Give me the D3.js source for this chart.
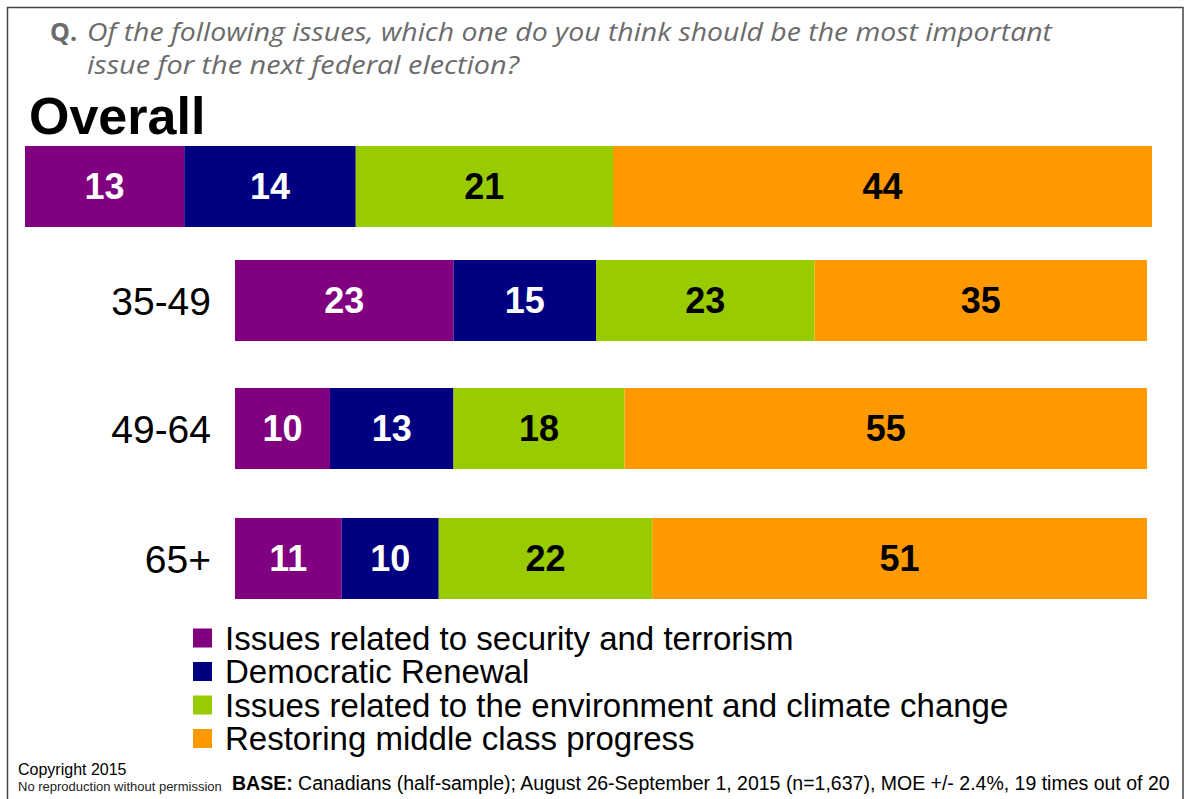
<!DOCTYPE html>
<html>
<head>
<meta charset="utf-8">
<script src="https://cdn.jsdelivr.net/npm/d3@7"></script>
<style>
  html, body { margin: 0; padding: 0; background: #fff; }
  svg { display: block; }
</style>
</head>
<body>
<script>
// Survey: most important issue for the next federal election
const issues = [
  "Issues related to security and terrorism",
  "Democratic Renewal",
  "Issues related to the environment and climate change",
  "Restoring middle class progress"
];
const issueColors = ["#800080", "#000080", "#99cc00", "#ff9900"];
const labelColors = ["#ffffff", "#ffffff", "#000000", "#000000"];

const groups = ["Overall", "35-49", "49-64", "65+"];
const security    = [13, 23, 10, 11];
const democratic  = [14, 15, 13, 10];
const environment = [21, 23, 18, 22];
const middleClass = [44, 35, 55, 51];

const W = 1185, H = 799;
const svg = d3.select("body").append("svg").attr("width", W).attr("height", H);
const sans = "'Liberation Sans', Arial, sans-serif";

// frame
svg.append("rect").attr("x", 7.5).attr("y", 7.5).attr("width", 1175.5).attr("height", 800)
  .attr("fill", "none").attr("stroke", "#444").attr("stroke-width", 1.5);

// question
const q = svg.append("g").attr("font-family", "'Open Sans', 'DejaVu Sans', sans-serif").attr("fill", "#6b6b6b");
q.append("text").attr("x", 50).attr("y", 41).attr("font-size", 25).attr("font-weight", "bold").text("Q.");
q.append("text").attr("x", 87).attr("y", 41).attr("font-size", 25).attr("font-style", "italic")
  .attr("textLength", 965).attr("lengthAdjust", "spacingAndGlyphs")
  .text("Of the following issues, which one do you think should be the most important");
q.append("text").attr("x", 87).attr("y", 74).attr("font-size", 25).attr("font-style", "italic")
  .attr("textLength", 432).attr("lengthAdjust", "spacingAndGlyphs")
  .text("issue for the next federal election?");

// "Overall" heading
svg.append("text").attr("x", 29).attr("y", 134)
  .attr("font-family", sans).attr("font-weight", "bold")
  .attr("font-size", 52).attr("fill", "#000").text("Overall");

// rows: bar extents and vertical bands
const series = [security, democratic, environment, middleClass];
const rows = groups.map((g, i) => ({ group: g, vals: series.map(s => s[i]) }));
const rowX0 = [25, 235, 235, 235];
const rowX1 = [1152, 1147, 1147, 1147];
const rowY = [146, 260, 388, 518];
const barH = 81;

rows.forEach((row, i) => {
  const total = d3.sum(row.vals);
  const x = d3.scaleLinear().domain([0, total]).range([rowX0[i], rowX1[i]]);
  const cum = d3.cumsum(row.vals);
  const segs = row.vals.map((v, k) => ({ v, k, start: cum[k] - v, end: cum[k] }));
  const g = svg.append("g");
  g.selectAll("rect").data(segs).join("rect")
    .attr("x", d => x(d.start)).attr("y", rowY[i])
    .attr("width", d => x(d.end) - x(d.start)).attr("height", barH)
    .attr("fill", d => issueColors[d.k]);
  g.selectAll("text").data(segs).join("text")
    .attr("x", d => (x(d.start) + x(d.end)) / 2)
    .attr("y", rowY[i] + barH / 2)
    .attr("dy", "0.36em")
    .attr("text-anchor", "middle")
    .attr("font-family", sans)
    .attr("font-weight", "bold").attr("font-size", 36)
    .attr("fill", d => labelColors[d.k])
    .text(d => d.v);
  if (i > 0) {
    svg.append("text").attr("x", 211).attr("y", rowY[i] + barH / 2).attr("dy", "0.36em")
      .attr("text-anchor", "end")
      .attr("font-family", sans)
      .attr("font-size", 39).attr("fill", "#000").text(row.group);
  }
});

// legend
const legend = svg.append("g");
const legY = [638, 671.5, 705, 738.5];
issues.forEach((name, k) => {
  legend.append("rect").attr("x", 193).attr("y", legY[k] - 9.5).attr("width", 19).attr("height", 19)
    .attr("fill", issueColors[k]);
  legend.append("text").attr("x", 225).attr("y", legY[k]).attr("dy", "0.36em")
    .attr("font-family", sans)
    .attr("font-size", 33).attr("fill", "#000").text(name);
});

// footer
const foot = svg.append("g").attr("font-family", sans).attr("fill", "#000");
foot.append("text").attr("x", 18).attr("y", 775).attr("font-size", 16).text("Copyright 2015");
foot.append("text").attr("x", 18).attr("y", 791).attr("font-size", 13).attr("fill", "#222")
  .text("No reproduction without permission");
const base = foot.append("text").attr("x", 232).attr("y", 790).attr("font-size", 19.5);
base.append("tspan").attr("font-weight", "bold").text("BASE:");
base.append("tspan").text(" Canadians (half-sample); August 26-September 1, 2015 (n=1,637), MOE +/- 2.4%, 19 times out of 20");
</script>
</body>
</html>
